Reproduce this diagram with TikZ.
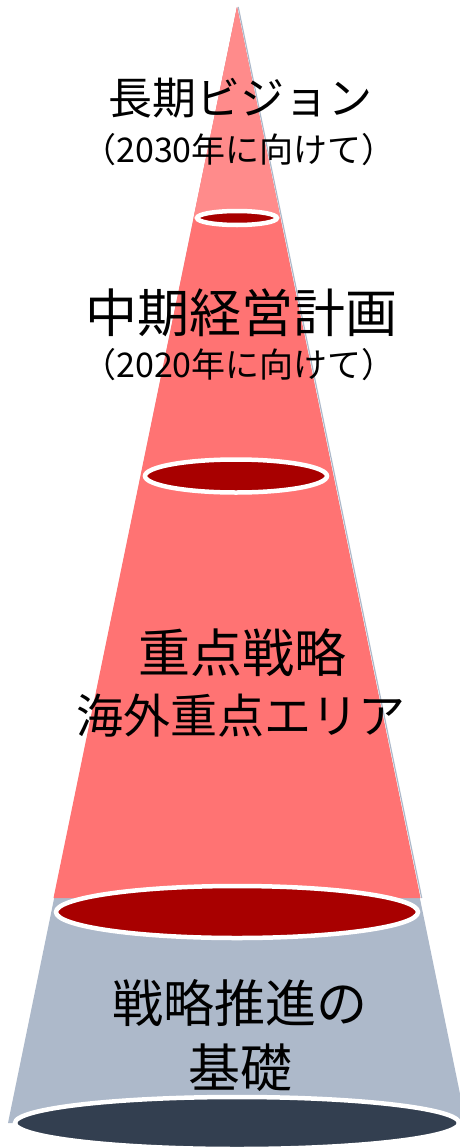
\documentclass[tikz,border=0pt]{standalone}
\usepackage{fontspec}
\setmainfont{Noto Sans CJK JP}
\definecolor{conepink}{HTML}{FF8B8B}
\definecolor{conered}{HTML}{FF7373}
\definecolor{rimred}{HTML}{A80000}
\definecolor{basegray}{HTML}{ADB9CA}
\definecolor{basedark}{HTML}{333F50}
\begin{document}
\begin{tikzpicture}[x=1pt,y=-1pt,
  rim/.style={draw=white,line width=4.5pt},
  lbl/.style={text=black,inner sep=0pt,align=center}]
\useasboundingbox (0,0) rectangle (460,1148);
% grey base cone
\coordinate (ga) at (237,7);
\coordinate (gl) at (8,1123);
\coordinate (gr) at (466,1123);
\fill[basegray] (ga) -- (gl) -- (gr) -- cycle;
\coordinate (e4) at (237,1123);
\path[rim,fill=basedark] (e4) ellipse [x radius=222,y radius=26];
% red cone
\coordinate (ra) at (237,7);
\coordinate (rl) at (53.5,898);
\coordinate (rr) at (420.5,898);
\fill[conered] (ra) -- (rl) -- (rr) -- cycle;
\draw[basegray,line width=1.2pt] ([xshift=1.2pt]ra) -- ([xshift=1.2pt]rr);
\coordinate (pl) at (193.5,218);
\coordinate (pr) at (280.5,218);
\fill[conepink] (ra) -- (pl) -- (pr) -- cycle;
% rims
\coordinate (e1) at (237,218);
\coordinate (e2) at (236,476);
\coordinate (e3) at (237,912);
\path[rim,fill=rimred] (e1) ellipse [x radius=40,y radius=7];
\path[rim,fill=rimred] (e2) ellipse [x radius=91,y radius=16.5];
\path[rim,fill=rimred] (e3) ellipse [x radius=181,y radius=26];
% labels
\node[lbl,font=\fontsize{44}{44}\selectfont] (t1) at (240,98) {長期ビジョン};
\node[lbl,font=\fontsize{34}{34}\selectfont] (t2) at (239,150) {（2030年に向けて）};
\node[lbl,font=\fontsize{52}{52}\selectfont] (t3) at (241,313) {中期経営計画};
\node[lbl,font=\fontsize{34}{34}\selectfont] (t4) at (239,365) {（2020年に向けて）};
\node[lbl,font=\fontsize{52}{52}\selectfont] (t5) at (242,653) {重点戦略};
\node[lbl,font=\fontsize{47}{47}\selectfont] (t6) at (241,716) {海外重点エリア};
\node[lbl,font=\fontsize{51}{51}\selectfont] (t7) at (240,1003) {戦略推進の};
\node[lbl,font=\fontsize{52}{52}\selectfont] (t8) at (240,1068) {基礎};
\end{tikzpicture}
\end{document}
